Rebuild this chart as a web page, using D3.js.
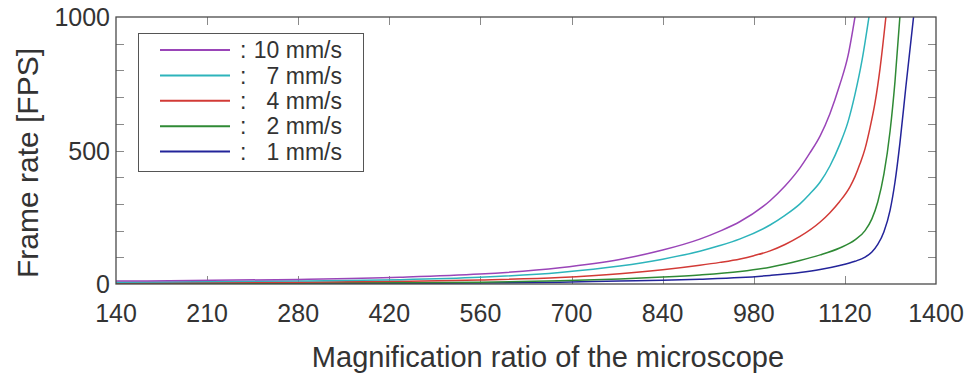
<!DOCTYPE html>
<html>
<head>
<meta charset="utf-8">
<script src="https://cdn.jsdelivr.net/npm/d3@7"></script>
<style>
  html, body { margin: 0; padding: 0; background: #ffffff; }
  svg { display: block; font-family: Arial, "Liberation Sans", sans-serif; }
</style>
</head>
<body>
<svg id="chart" width="970" height="374"></svg>
<script>
// Axis tick labels (the magnification axis is evenly spaced by label, not linear)
const xTickLabels = [140, 210, 280, 420, 560, 700, 840, 980, 1120, 1400];
const yTickLabels = [0, 500, 1000];
const yMinorTicks = [100, 200, 300, 400, 600, 700, 800, 900];

// Stage speeds shown in the legend
const speedLabels = ["10 mm/s", "7 mm/s", "4 mm/s", "2 mm/s", "1 mm/s"];
const seriesColors = ["#9a45b8", "#2db4bb", "#d23a36", "#2f8a35", "#23249a"];

// Required frame rate [FPS] against magnification, one array per speed
const fps10 = [[140,11],[280,17],[436,25],[559,37],[682,61],[774,92],[840,127],[897,168],[928,198],[959,234],[1005,312],[1028,367],[1051,435],[1066,490],[1082,555],[1097,638],[1112,745],[1130,857],[1151,1000]];
const fps7  = [[140,7],[280,11],[436,16],[559,25],[682,43],[774,67],[840,93],[897,123],[928,144],[959,169],[1005,221],[1028,257],[1051,300],[1066,337],[1082,382],[1097,442],[1112,522],[1130,609],[1151,710],[1173,840],[1194,1000]];
const fps4  = [[140,4],[280,7],[436,10],[559,15],[682,24],[774,38],[840,53],[897,70],[928,81],[959,94],[980,106],[1005,124],[1028,148],[1051,178],[1082,232],[1097,267],[1112,309],[1136,365],[1151,402],[1166,449],[1182,507],[1197,584],[1213,682],[1228,807],[1246,1000]];
const fps2  = [[140,2],[280,3.4],[436,5],[559,7],[682,12],[774,19],[840,26],[897,34],[959,47],[1005,63],[1051,88],[1082,109],[1112,135],[1151,165],[1182,200],[1203,244],[1221,307],[1240,412],[1259,574],[1274,759],[1289,1000]];
const fps1  = [[140,1],[280,1.8],[436,2.7],[559,4],[682,7],[774,11],[840,14],[897,18],[959,24],[1005,32],[1051,43],[1082,54],[1112,69],[1151,85],[1182,101],[1203,120],[1221,148],[1240,196],[1259,277],[1274,382],[1289,527],[1307,734],[1331,1000]];

const seriesData = [fps10, fps7, fps4, fps2, fps1];

const svg = d3.select("#chart");
const plot = { left: 116, right: 936, top: 17, bottom: 284 };
const textColor = "#333333";

// Piecewise-linear scale: each labelled tick gets an equal share of the width
const step = (plot.right - plot.left) / (xTickLabels.length - 1);
const x = d3.scaleLinear()
  .domain(xTickLabels)
  .range(xTickLabels.map((d, i) => plot.left + i * step));

const y = d3.scaleLinear().domain([0, 1000]).range([plot.bottom, plot.top]);

// Clip curves to the plotting frame
svg.append("clipPath").attr("id", "plot-clip")
  .append("rect")
  .attr("x", plot.left).attr("y", plot.top)
  .attr("width", plot.right - plot.left)
  .attr("height", plot.bottom - plot.top);

// Inward ticks on all four sides
const tickLen = 8;
const tickColor = "#8a8a8a";
const ticks = svg.append("g").attr("stroke", tickColor).attr("stroke-width", 1);

xTickLabels.slice(1, -1).forEach(v => {
  const px = Math.round(x(v)) + 0.5;
  ticks.append("line").attr("x1", px).attr("x2", px).attr("y1", plot.top).attr("y2", plot.top + tickLen);
  ticks.append("line").attr("x1", px).attr("x2", px).attr("y1", plot.bottom).attr("y2", plot.bottom - tickLen);
});
yMinorTicks.concat([500]).forEach(v => {
  const py = Math.round(y(v)) + 0.5;
  ticks.append("line").attr("x1", plot.left).attr("x2", plot.left + tickLen).attr("y1", py).attr("y2", py);
  ticks.append("line").attr("x1", plot.right).attr("x2", plot.right - tickLen).attr("y1", py).attr("y2", py);
});

// Curves
const line = d3.line()
  .x(d => x(d[0]))
  .y(d => y(d[1]))
  .curve(d3.curveMonotoneX);

svg.append("g").attr("clip-path", "url(#plot-clip)")
  .selectAll("path")
  .data(seriesData.slice().reverse())
  .join("path")
  .attr("d", line)
  .attr("fill", "none")
  .attr("stroke", (d, i) => seriesColors[seriesData.length - 1 - i])
  .attr("stroke-width", 1.5);

// Frame
svg.append("rect")
  .attr("x", plot.left).attr("y", plot.top)
  .attr("width", plot.right - plot.left)
  .attr("height", plot.bottom - plot.top)
  .attr("fill", "none")
  .attr("stroke", "#4a4a4a")
  .attr("stroke-width", 1.3);

// Tick labels
svg.append("g")
  .selectAll("text")
  .data(xTickLabels)
  .join("text")
  .attr("x", d => x(d))
  .attr("y", 322)
  .attr("text-anchor", "middle")
  .attr("font-size", 25)
  .attr("fill", textColor)
  .text(d => d);

svg.append("g")
  .selectAll("text")
  .data(yTickLabels)
  .join("text")
  .attr("x", plot.left - 6)
  .attr("y", d => y(d))
  .attr("dy", "0.36em")
  .attr("text-anchor", "end")
  .attr("font-size", 25)
  .attr("fill", textColor)
  .text(d => d);

// Axis titles
svg.append("text")
  .attr("x", 548)
  .attr("y", 367)
  .attr("text-anchor", "middle")
  .attr("font-size", 29)
  .attr("fill", textColor)
  .text("Magnification ratio of the microscope");

svg.append("text")
  .attr("transform", "translate(38, 163) rotate(-90)")
  .attr("text-anchor", "middle")
  .attr("font-size", 30)
  .attr("fill", textColor)
  .text("Frame rate [FPS]");

// Legend
const legend = svg.append("g");
legend.append("rect")
  .attr("x", 138.5).attr("y", 33.5)
  .attr("width", 225).attr("height", 138)
  .attr("fill", "#ffffff")
  .attr("stroke", "#555555")
  .attr("stroke-width", 1);

const legendRows = legend.selectAll("g")
  .data(speedLabels)
  .join("g")
  .attr("transform", (d, i) => `translate(0, ${50 + i * 25.4})`);

legendRows.append("line")
  .attr("x1", 160).attr("x2", 230)
  .attr("y1", 0).attr("y2", 0)
  .attr("stroke", (d, i) => seriesColors[i])
  .attr("stroke-width", 2);

legendRows.append("text")
  .attr("x", 240).attr("y", 0).attr("dy", "0.36em")
  .attr("font-size", 23)
  .attr("fill", textColor)
  .text(":");

legendRows.append("text")
  .attr("x", 342).attr("y", 0).attr("dy", "0.36em")
  .attr("text-anchor", "end")
  .attr("font-size", 23)
  .attr("fill", textColor)
  .text(d => d);
</script>
</body>
</html>
